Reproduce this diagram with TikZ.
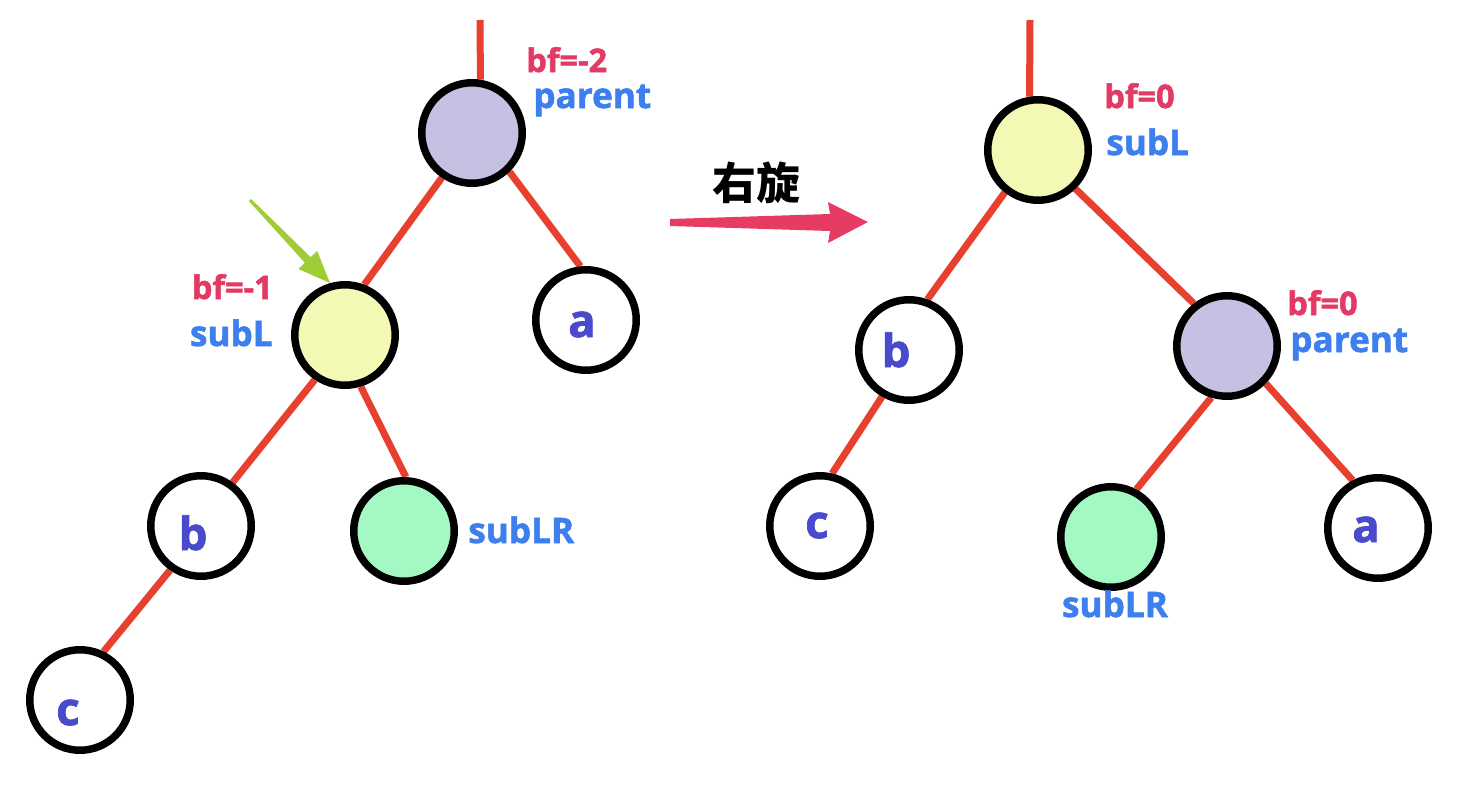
\documentclass[tikz,border=0pt]{standalone}
\usepackage{fontspec}
\setmainfont{Open Sans}
\newfontfamily\lblfont{Open Sans}[BoldFeatures={FakeBold=1.6}]
\newfontfamily\cjkfont{Noto Sans CJK SC}
\usetikzlibrary{backgrounds}
\definecolor{edgered}{HTML}{E8402F}
\definecolor{purplefill}{HTML}{C5C1E3}
\definecolor{yellowfill}{HTML}{F3F8B5}
\definecolor{greenfill}{HTML}{A4F8C4}
\definecolor{labelblue}{HTML}{3D7FEE}
\definecolor{bfred}{HTML}{E23A64}
\definecolor{letterblue}{HTML}{4A4ACD}
\definecolor{pinkarrow}{HTML}{E63C63}
\definecolor{greenarrow}{HTML}{A0CC35}
\tikzset{
  treenode/.style={circle, draw=black, line width=0.15cm, minimum size=2.01cm, inner sep=0pt},
  treeedge/.style={draw=edgered, line width=0.14cm},
  bflabel/.style={text=bfred, font=\lblfont\bfseries\fontsize{18.5}{18.5}\selectfont, inner sep=0pt},
  namelabel/.style={text=labelblue, font=\lblfont\bfseries\fontsize{20}{20}\selectfont, inner sep=0pt},
  letter/.style={text=letterblue, font=\lblfont\bfseries\fontsize{26}{26}\selectfont, inner sep=0pt, anchor=base}
}
\begin{document}
\begin{tikzpicture}[x=0.02cm, y=-0.02cm]
\useasboundingbox (0,0) rectangle (1472,788);
% ---------- left tree ----------
\node[treenode, fill=purplefill] (Lparent) at (472,133) {};
\node[treenode, fill=yellowfill] (LsubL) at (345,335) {};
\node[treenode, fill=white] (La) at (586,320) {};
\node[treenode, fill=white] (Lb) at (201,526) {};
\node[treenode, fill=greenfill] (LsubLR) at (404,531) {};
\node[treenode, fill=white] (Lc) at (80,700) {};
\coordinate (Ltop) at (480,20);
\begin{scope}[on background layer]
\draw[treeedge] (Ltop) -- (Lparent.81);
\draw[treeedge] (Lparent.236) -- (LsubL.69);
\draw[treeedge] (Lparent.314) -- (La.96);
\draw[treeedge] (LsubL.236) -- (Lb.54);
\draw[treeedge] (LsubL.287) -- (LsubLR.88);
\draw[treeedge] (Lb.235) -- (Lc.64);
\end{scope}
\node[letter] (Lat) at (582,337) {a};
\node[letter] (Lbt) at (193,550) {b};
\node[letter] (Lct) at (68,725) {c};
\node[bflabel, anchor=base west] (Lbf2) at (526,72) {bf=-2};
\node[namelabel, anchor=base west] (Lparentlbl) at (533,108) {parent};
\node[bflabel, anchor=base east] (Lbf1) at (273,299) {bf=-1};
\node[namelabel, anchor=base east] (LsubLlbl) at (273,346) {subL};
\node[namelabel, anchor=base west] (LsubLRlbl) at (468,543) {subLR};
% green pointer arrow
\fill[greenarrow] (248.9,201) -- (304.9,262.8) -- (298.4,269) -- (330,283) -- (317.2,251) -- (310.7,257.2) -- (251.1,199) -- cycle;
% ---------- rotation arrow ----------
\fill[pinkarrow] (670,219) -- (830,214) -- (828,202) -- (868,222) -- (828,243) -- (830,231) -- (670,226) -- cycle;
\node[font=\cjkfont\bfseries\fontsize{25}{25}\selectfont, inner sep=0pt] (rot) at (756,183) {右旋};
% ---------- right tree ----------
\node[treenode, fill=yellowfill] (RsubL) at (1038,150) {};
\node[treenode, fill=white] (Rb) at (909,350) {};
\node[treenode, fill=purplefill] (Rparent) at (1227,346) {};
\node[treenode, fill=white] (Rc) at (820,526) {};
\node[treenode, fill=greenfill] (RsubLR) at (1111,537) {};
\node[treenode, fill=white] (Ra) at (1378,528) {};
\coordinate (Rtop) at (1030,20);
\begin{scope}[on background layer]
\draw[treeedge] (Rtop) -- (RsubL.99);
\draw[treeedge] (RsubL.232) -- (Rb.70);
\draw[treeedge] (RsubL.314) -- (Rparent.128);
\draw[treeedge] (Rb.240) -- (Rc.77);
\draw[treeedge] (Rparent.253) -- (RsubLR.62);
\draw[treeedge] (Rparent.316) -- (Ra.118);
\end{scope}
\node[letter] (Rbt) at (896,367) {b};
\node[letter] (Rct) at (817,538) {c};
\node[letter] (Rat) at (1366,542) {a};
\node[bflabel, anchor=base west] (Rbf1) at (1104,108) {bf=0};
\node[namelabel, anchor=base west] (RsubLlbl) at (1106,155) {subL};
\node[bflabel, anchor=base west] (Rbf2) at (1287,315) {bf=0};
\node[namelabel, anchor=base west] (Rparentlbl) at (1290,352) {parent};
\node[namelabel, anchor=base] (RsubLRlbl) at (1115,617) {subLR};
\end{tikzpicture}
\end{document}
